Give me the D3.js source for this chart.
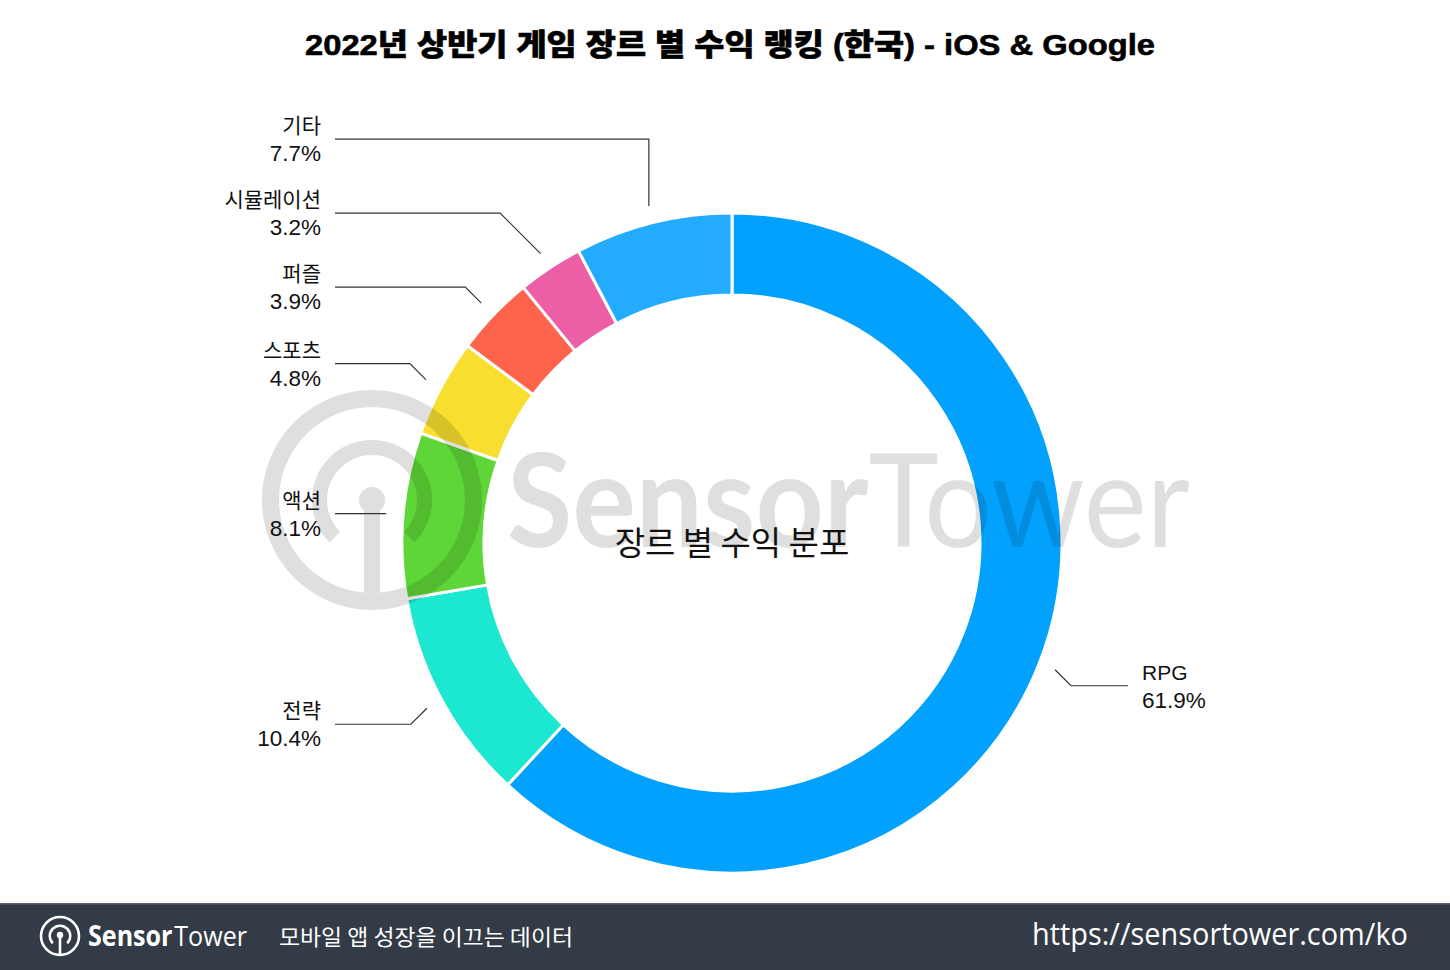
<!DOCTYPE html>
<html><head><meta charset="utf-8">
<script src="https://cdn.jsdelivr.net/npm/d3@7"></script>
<style>body{margin:0;background:#fff}svg{display:block}</style>
</head><body><svg id="c" width="1450" height="970"></svg>
<script>
// ---- data ----
const genres = ["RPG", "전략", "액션", "스포츠", "퍼즐", "시뮬레이션", "기타"];
const shares = [61.9, 10.4, 8.1, 4.8, 3.9, 3.2, 7.7];
const colors = ["#02a1fe", "#1ce7d0", "#5ed637", "#f7de2f", "#fe644b", "#ec5fa6", "#23acfe"];
const titleText = "2022년 상반기 게임 장르 별 수익 랭킹 (한국) - iOS & Google";
const centerText = "장르 별 수익 분포";
const taglineText = "모바일 앱 성장을 이끄는 데이터";
const urlText = "https://sensortower.com/ko";
const brandBold = "Sensor", brandLight = "Tower";

// ---- layout ----
const W = 1450, H = 970, cx = 732, cy = 543, rOuter = 330, rInner = 248;
const latin = "'Liberation Sans', Arial, 'Noto Sans CJK KR', sans-serif";
const kr = "'Noto Sans CJK KR', 'Liberation Sans', sans-serif";
const svg = d3.select("#c");
svg.append("rect").attr("width", W).attr("height", H).attr("fill", "#fff");

// title
svg.append("text").attr("x", 730).attr("y", 55).attr("text-anchor", "middle")
  .attr("font-family", latin).attr("font-weight", 900).attr("font-size", 30)
  .attr("fill", "#000").attr("stroke", "#000").attr("stroke-width", 0.6)
  .attr("textLength", 850).attr("lengthAdjust", "spacingAndGlyphs")
  .text(titleText);

// donut
const data = genres.map((g, i) => ({ name: g, v: shares[i], color: colors[i] }));
const pie = d3.pie().sort(null).value(d => d.v);
const arcs = pie(data);
const arc = d3.arc().innerRadius(rInner).outerRadius(rOuter);
const gPie = svg.append("g").attr("transform", `translate(${cx},${cy})`);
gPie.selectAll("path").data(arcs).join("path")
  .attr("d", arc).attr("fill", d => d.data.color)
  .attr("stroke", "#fff").attr("stroke-width", 3).attr("stroke-linejoin", "round");

// watermark
const wm = svg.append("g").attr("opacity", 0.12);
const lx = 372, ly = 500;
wm.append("circle").attr("cx", lx).attr("cy", ly).attr("r", 101.5)
  .attr("fill", "none").attr("stroke", "#000").attr("stroke-width", 17);
wm.append("path").attr("transform", `translate(${lx},${ly})`)
  .attr("d", d3.arc().innerRadius(45).outerRadius(60).startAngle(-Math.PI * 0.75).endAngle(Math.PI * 0.75)())
  .attr("fill", "#000");
wm.append("circle").attr("cx", lx).attr("cy", ly).attr("r", 13).attr("fill", "#000");
wm.append("rect").attr("x", lx - 8).attr("y", ly).attr("width", 16).attr("height", 100).attr("fill", "#000");
const wmText = wm.append("text").attr("x", 507).attr("y", 547)
  .attr("font-family", "Lato, 'Open Sans', sans-serif").attr("font-size", 130).attr("fill", "#000")
  .attr("textLength", 683).attr("lengthAdjust", "spacingAndGlyphs");
wmText.append("tspan").attr("font-weight", 700).text(brandBold);
wmText.append("tspan").attr("font-weight", 400).text(brandLight);

// center label
svg.append("text").attr("x", cx).attr("y", cy + 12).attr("text-anchor", "middle")
  .attr("font-family", kr).attr("font-size", 33).attr("fill", "#111").text(centerText);

// data labels with leader lines
const anchorR = rOuter + 17;
const labels = arcs.map(a => {
  const m = (a.startAngle + a.endAngle) / 2;
  const ax = cx + anchorR * Math.sin(m), ay = cy - anchorR * Math.cos(m);
  const dy = ay - cy;
  const side = ax > cx ? 1 : -1;
  const ly0 = Math.abs(dy) > 40 ? ay + 16 * Math.sign(dy) : ay;
  return { a, ax, ay, ly: ly0, side };
});
const spacing = 74;
[-1, 1].forEach(s => {
  const grp = labels.filter(l => l.side === s).sort((p, q) => p.ly - q.ly);
  for (let i = grp.length - 2; i >= 0; i--) grp[i].ly = Math.min(grp[i].ly, grp[i + 1].ly - spacing);
});
const gLab = svg.append("g");
labels.forEach(l => {
  const d = Math.abs(l.ly - l.ay);
  const ex = d > 50 ? l.ax : l.ax + l.side * d;
  const endX = l.side < 0 ? cx - rOuter - 67 : cx + rOuter + 66;
  const tx = l.side < 0 ? cx - rOuter - 81 : cx + rOuter + 80;
  gLab.append("path")
    .attr("d", d3.line()([[l.ax, l.ay], [ex, l.ly], [endX, l.ly]]))
    .attr("fill", "none").attr("stroke", "#333").attr("stroke-width", 1.2);
  const anchor = l.side < 0 ? "end" : "start";
  gLab.append("text").attr("x", tx).attr("y", l.ly - 6).attr("text-anchor", anchor)
    .attr("font-family", latin).attr("font-size", 21).attr("fill", "#111").text(l.a.data.name);
  gLab.append("text").attr("x", tx).attr("y", l.ly + 22).attr("text-anchor", anchor)
    .attr("font-family", latin).attr("font-size", 22.5).attr("fill", "#111").text(l.a.data.v.toFixed(1) + "%");
});

// footer
const fy = 903;
svg.append("rect").attr("x", 0).attr("y", fy).attr("width", W).attr("height", H - fy).attr("fill", "#333b46");
svg.append("rect").attr("x", 0).attr("y", fy).attr("width", W).attr("height", 1.5).attr("fill", "#5a6270");
const fl = svg.append("g").attr("transform", "translate(60,936)");
fl.append("circle").attr("r", 19).attr("fill", "none").attr("stroke", "#fff").attr("stroke-width", 2.6);
fl.append("path").attr("d", d3.arc().innerRadius(9).outerRadius(11.5).startAngle(-Math.PI * 0.75).endAngle(Math.PI * 0.75)())
  .attr("fill", "#fff");
fl.append("circle").attr("cy", -1).attr("r", 3.2).attr("fill", "#fff");
fl.append("rect").attr("x", -1.3).attr("y", -1).attr("width", 2.6).attr("height", 20).attr("fill", "#fff");
const brand = svg.append("text").attr("x", 88).attr("y", 946).attr("font-family", "'Open Sans', sans-serif")
  .attr("font-size", 28).attr("fill", "#fff")
  .attr("textLength", 159).attr("lengthAdjust", "spacingAndGlyphs");
brand.append("tspan").attr("font-weight", 700).text(brandBold);
brand.append("tspan").attr("font-weight", 400).attr("dx", 2).text(brandLight);
svg.append("text").attr("x", 279).attr("y", 945).attr("font-family", kr)
  .attr("font-size", 22).attr("fill", "#fff")
  .attr("textLength", 294).attr("lengthAdjust", "spacingAndGlyphs").text(taglineText);
svg.append("text").attr("x", 1408).attr("y", 945).attr("text-anchor", "end")
  .attr("font-family", "'Open Sans', sans-serif")
  .attr("font-size", 31).attr("fill", "#fff")
  .attr("textLength", 376).attr("lengthAdjust", "spacingAndGlyphs").text(urlText);
</script>
</body></html>
